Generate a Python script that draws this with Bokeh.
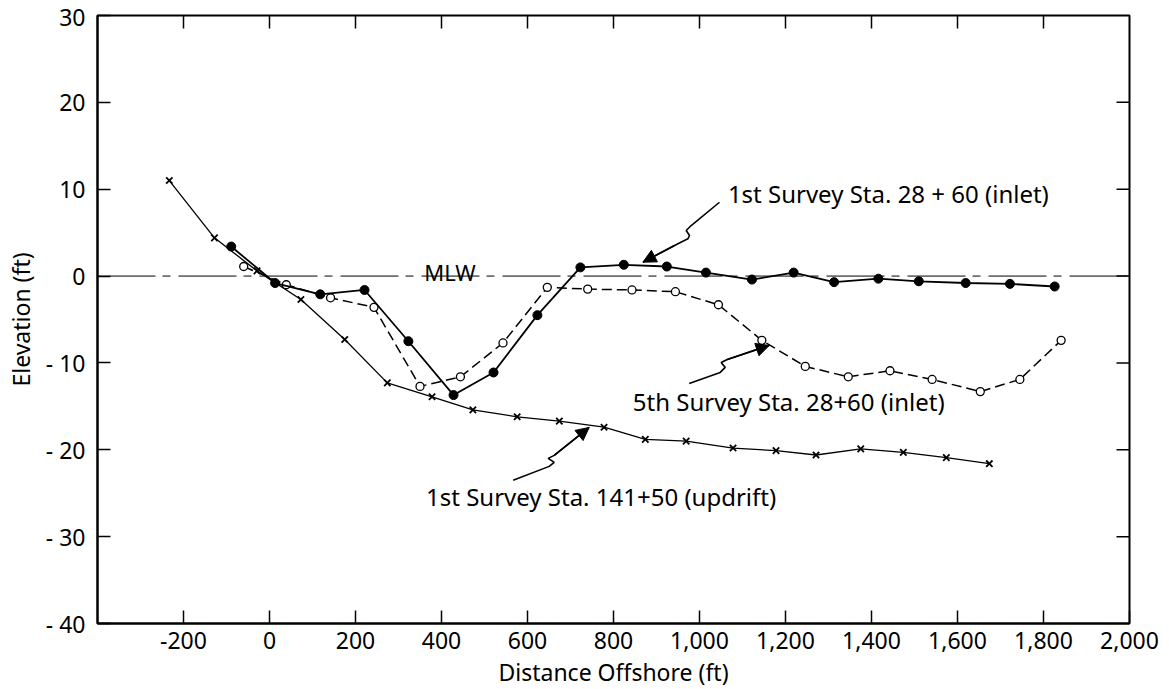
from bokeh.plotting import figure
from bokeh.models import (LinearAxis, FixedTicker, Label, Arrow, NormalHead,
                          Range1d)
from bokeh.embed import file_html
from bokeh.resources import INLINE

FONT = "Noto Sans"

# ---- data ----
updrift_x = [-233, -128, -29, 73, 175, 274, 378, 473, 576, 674, 778, 874,
             969, 1078, 1178, 1271, 1375, 1474, 1574, 1674]
updrift_y = [11.0, 4.4, 0.6, -2.7, -7.3, -12.3, -13.9, -15.4, -16.2, -16.7,
             -17.4, -18.8, -19.0, -19.8, -20.1, -20.6, -19.9, -20.3, -20.9, -21.6]

inlet1_x = [-89, 13, 118, 221, 323, 428, 521, 623, 723, 824, 924, 1015,
            1122, 1219, 1313, 1416, 1510, 1619, 1722, 1826]
inlet1_y = [3.4, -0.8, -2.1, -1.6, -7.5, -13.7, -11.1, -4.5, 1.0, 1.3, 1.1,
            0.4, -0.4, 0.4, -0.7, -0.3, -0.6, -0.8, -0.9, -1.2]

inlet5_x = [-60, 39, 142, 243, 350, 444, 543, 646, 740, 843, 944, 1044,
            1145, 1246, 1346, 1443, 1541, 1653, 1745, 1841]
inlet5_y = [1.1, -1.0, -2.5, -3.6, -12.7, -11.6, -7.7, -1.3, -1.5, -1.6,
            -1.8, -3.3, -7.4, -10.4, -11.6, -10.9, -11.9, -13.3, -11.9, -7.4]

x_ticks = [-200, 0, 200, 400, 600, 800, 1000, 1200, 1400, 1600, 1800, 2000]
x_labels = ["-200", "0", "200", "400", "600", "800", "1,000", "1,200",
            "1,400", "1,600", "1,800", "2,000"]
y_ticks = [-40, -30, -20, -10, 0, 10, 20, 30]
y_labels = ["- 40", "- 30", "- 20", "- 10", "0", "10", "20", "30"]

# annotation paths (data coordinates)
arrow1_x = [1046.5, 980.7, 969.1, 976.8, 973.0, 941.9, 868.4]
arrow1_y = [8.50, 5.82, 5.25, 4.67, 4.29, 3.52, 1.60]
arrow2_x = [976.1, 1048.1, 1059.8, 1050.5, 1064.5, 1162.1]
arrow2_y = [-12.36, -11.09, -10.52, -9.94, -9.60, -7.99]
arrow3_x = [566.7, 650.5, 662.1, 648.1, 662.1, 743.5]
arrow3_y = [-23.52, -21.91, -21.45, -20.99, -20.64, -17.42]

X0, X1, Y0, Y1 = -400, 2000, -40, 30
FW, FH = 1032, 608
TICK_PX = 13

p = figure(frame_width=FW, frame_height=FH,
           x_range=Range1d(X0, X1), y_range=Range1d(Y0, Y1),
           x_axis_type=None, y_axis_type=None,
           output_backend="svg", toolbar_location=None)
p.min_border_left = 97
p.min_border_right = 40
p.min_border_top = 15
p.min_border_bottom = 66
p.outline_line_color = "black"
p.outline_line_width = 2
p.grid.visible = False
p.background_fill_color = "white"
p.border_fill_color = "white"


def make_axis(ticks, labels):
    ax = LinearAxis(ticker=FixedTicker(ticks=ticks))
    ax.major_label_overrides = {t: l for t, l in zip(ticks, labels)}
    ax.major_tick_in = TICK_PX
    ax.major_tick_out = 0
    ax.minor_tick_in = 0
    ax.minor_tick_out = 0
    ax.axis_line_width = 2
    ax.major_tick_line_width = 1.5
    ax.axis_line_color = "black"
    ax.major_tick_line_color = "black"
    ax.major_label_text_font = FONT
    ax.major_label_text_color = "black"
    ax.major_label_text_font_size = "23px"
    ax.axis_label_text_font = FONT
    ax.axis_label_text_font_style = "normal"
    ax.axis_label_text_font_size = "23px"
    ax.axis_label_text_color = "black"
    return ax


xb = make_axis(x_ticks, x_labels)
xb.major_label_standoff = 8
xb.axis_label = "Distance Offshore (ft)"
xb.axis_label_standoff = 4
p.add_layout(xb, "below")

yl = make_axis(y_ticks, y_labels)
yl.major_label_standoff = 12
yl.axis_label = "Elevation (ft)"
yl.axis_label_standoff = 6
p.add_layout(yl, "left")

# inward ticks on the top and right frame edges
dy = TICK_PX * (Y1 - Y0) / FH
dx = TICK_PX * (X1 - X0) / FW
top_t = [t for t in x_ticks if X0 < t < X1]
right_t = [t for t in y_ticks if Y0 < t < Y1]
p.segment(x0=top_t, y0=[Y1] * len(top_t), x1=top_t, y1=[Y1 - dy] * len(top_t),
          line_color="black", line_width=1.5)
p.segment(x0=[X1] * len(right_t), y0=right_t, x1=[X1 - dx] * len(right_t),
          y1=right_t, line_color="black", line_width=1.5)

# MLW reference line
p.line([X0, X1], [0, 0], line_color="black", line_width=1,
       line_dash="58 7 8 8")
p.add_layout(Label(x=360, y=0.45, text="MLW", text_font=FONT,
                   text_font_size="22px", text_baseline="alphabetic",
                   text_align="left", text_color="black"))

# series
p.line(updrift_x, updrift_y, line_color="black", line_width=1.3)
p.scatter(updrift_x, updrift_y, marker="x", size=9, line_color="black",
          line_width=1.8)

p.line(inlet5_x, inlet5_y, line_color="black", line_width=1.5,
       line_dash="10 5")
p.scatter(inlet5_x, inlet5_y, marker="circle", size=8, fill_color="white",
          line_color="black", line_width=1.3)

p.line(inlet1_x, inlet1_y, line_color="black", line_width=1.8)
p.scatter(inlet1_x, inlet1_y, marker="circle", size=9, fill_color="black",
          line_color="black")

# annotation texts
for tx, ty, txt in [(1066, 9.5, "1st Survey Sta. 28 + 60 (inlet)"),
                    (845, -14.4, "5th Survey Sta. 28+60 (inlet)"),
                    (364, -25.4, "1st Survey Sta. 141+50 (updrift)")]:
    p.add_layout(Label(x=tx, y=ty, text=txt, text_font=FONT,
                       text_font_size="24px", text_baseline="middle",
                       text_align="left", text_color="black"))

# squiggly arrows
for ax_, ay_ in [(arrow1_x, arrow1_y), (arrow2_x, arrow2_y),
                 (arrow3_x, arrow3_y)]:
    p.line(ax_, ay_, line_color="black", line_width=1.6)
    p.add_layout(Arrow(end=NormalHead(size=13, fill_color="black",
                                      line_color="black"),
                       x_start=ax_[-2], y_start=ay_[-2],
                       x_end=ax_[-1], y_end=ay_[-1],
                       line_color="black", line_width=1.6))

open("out.html", "w").write(file_html(p, INLINE))
